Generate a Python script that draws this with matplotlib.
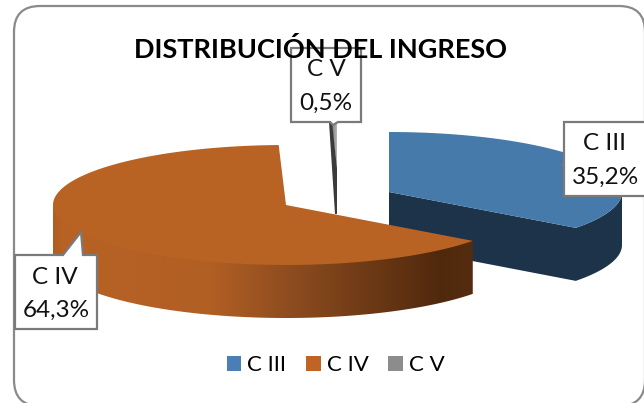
import numpy as np
import matplotlib
matplotlib.use("Agg")
import matplotlib.pyplot as plt
from matplotlib.colors import LinearSegmentedColormap
from matplotlib.patches import FancyBboxPatch, Patch, Polygon

categories = ["C III", "C IV", "C V"]
shares = [35.2, 64.3, 0.5]
share_labels = ["35,2%", "64,3%", "0,5%"]
title = "DISTRIBUCIÓN DEL INGRESO"

# pie geometry in pixels
RX, RY, DEPTH = 233, 60, 53
centers = {"C III": (389, 192), "C IV": (286, 205), "C V": (337, 168)}
FONT = "Lato"
EDGE = "#7a7a7a"


def arc(center, a0, a1, drop=0):
    t = np.radians(np.linspace(a0, a1, 160))
    x = center[0] + RX * np.cos(t)
    y = center[1] - RY * np.sin(t) + drop
    return np.column_stack([x, y])


def gradient_fill(ax, pts, stops, zorder):
    # horizontal gradient between the first and last stop, clipped to the polygon
    x0, x1 = stops[0][0], stops[-1][0]
    y0, y1 = pts[:, 1].min(), pts[:, 1].max()
    cmap = LinearSegmentedColormap.from_list(
        "side", [((x - x0) / (x1 - x0), c) for x, c in stops])
    im = ax.imshow(np.linspace(0, 1, 512)[None, :], cmap=cmap, aspect="auto",
                   extent=(x0, x1, y1, y0), zorder=zorder, vmin=0, vmax=1)
    clip = Polygon(pts, closed=True, transform=ax.transData, fc="none", ec="none")
    ax.add_patch(clip)
    im.set_clip_path(clip)


def callout(ax, pts, lines, centers_xy):
    ax.add_patch(Polygon(pts, closed=True, fc="white", ec=EDGE, lw=1.6, zorder=8,
                         joinstyle="miter"))
    for s, (x, y) in zip(lines, centers_xy):
        ax.text(x, y, s, ha="center", va="center", fontsize=17.5, family=FONT,
                color="#111111", zorder=9)


fig = plt.figure(figsize=(6.44, 4.03), dpi=100)
ax = fig.add_axes([0, 0, 1, 1])

ax.add_patch(FancyBboxPatch((14 + 26, 6 + 26), 631 - 52, 400 - 52,
                            boxstyle="round,pad=26,rounding_size=26",
                            fc="white", ec="#8a8a8a", lw=1.6, zorder=0))

# slice angles, clockwise from 12 o'clock
sweeps = [360 * s / sum(shares) for s in shares]
a3_end = 90 - sweeps[0]
a4_end = a3_end - sweeps[1]
a5_end = a4_end - sweeps[2]

# C V sliver
c = np.array(centers["C V"])
rim = arc(c, a4_end + 360, a5_end + 360)
gradient_fill(ax, np.vstack([rim, c]),
              [(c[0] - 8, "#555555"), (c[0] + 1, "#c4c4c4")], 1)
side = np.array([c + [-8, -46], c + [-5, -46], c + [0, 0], c + [0, 46], c + [-2, 46]])
ax.add_patch(Polygon(side, closed=True, fc="#3b3b3b", ec="none", zorder=2))

# C III
c = np.array(centers["C III"])
top = arc(c, 90, a3_end)
outer = arc(c, a3_end, 0)
side = np.vstack([[c], [top[-1]], outer, outer[::-1] + [0, DEPTH],
                  [top[-1] + [0, DEPTH]], [c + [0, DEPTH]]])
ax.add_patch(Polygon(side, closed=True, fc="#1d3349", ec="none", zorder=3))
ax.add_patch(Polygon(np.vstack([[c], top]), closed=True, fc="#457aaa", ec="none", zorder=4))

# C IV, the side's upper edge tucks under the top face so no seam shows
c = np.array(centers["C IV"])
front = arc(c, a3_end, -180)
side = np.vstack([front[:1], c + 0.95 * (front - c), front[-1:], front[::-1] + [0, DEPTH]])
gradient_fill(ax, side, [(53, "#b05e23"), (62, "#b86224"), (210, "#b25f24"),
                         (300, "#8a4a1e"), (440, "#50290d"), (474, "#552c0f")], 5)
top = arc(c, a4_end, a3_end)
ax.add_patch(Polygon(np.vstack([[c], top]), closed=True, fc="#b86224", ec="none", zorder=6))

# data labels
callout(ax, [(564, 122), (646, 122), (646, 196), (564, 196), (564, 166), (562, 165), (564, 164)],
        [categories[0], share_labels[0]], [(605, 144), (606, 177)])
callout(ax, [(15, 255), (63, 255), (81, 232), (83, 255), (97, 255), (97, 329), (15, 329)],
        [categories[1], share_labels[1]], [(55, 277), (56, 310)])
callout(ax, [(291, 48), (361, 48), (361, 122), (338, 122), (333, 125), (330, 122), (291, 122)],
        [categories[2], share_labels[2]], [(326, 70), (326, 103)])

ax.text(320.5, 50, title, ha="center", va="center", fontsize=19.5, fontweight="bold",
        family=FONT, color="black", zorder=10)

handles = [Patch(fc=col, ec="none") for col in ["#4a7eb5", "#c06426", "#8c8c8c"]]
leg = ax.legend(handles, categories, loc="center", bbox_to_anchor=(335.5, 365),
                bbox_transform=ax.transData, ncol=3, frameon=False,
                prop={"family": FONT, "size": 16}, handlelength=0.67, handleheight=0.67,
                handletextpad=0.27, columnspacing=0.87, borderpad=0)
leg.set_zorder(10)

ax.set_xlim(0, 644)
ax.set_ylim(403, 0)
ax.axis("off")
fig.savefig("out.png", dpi=100, facecolor="white")
